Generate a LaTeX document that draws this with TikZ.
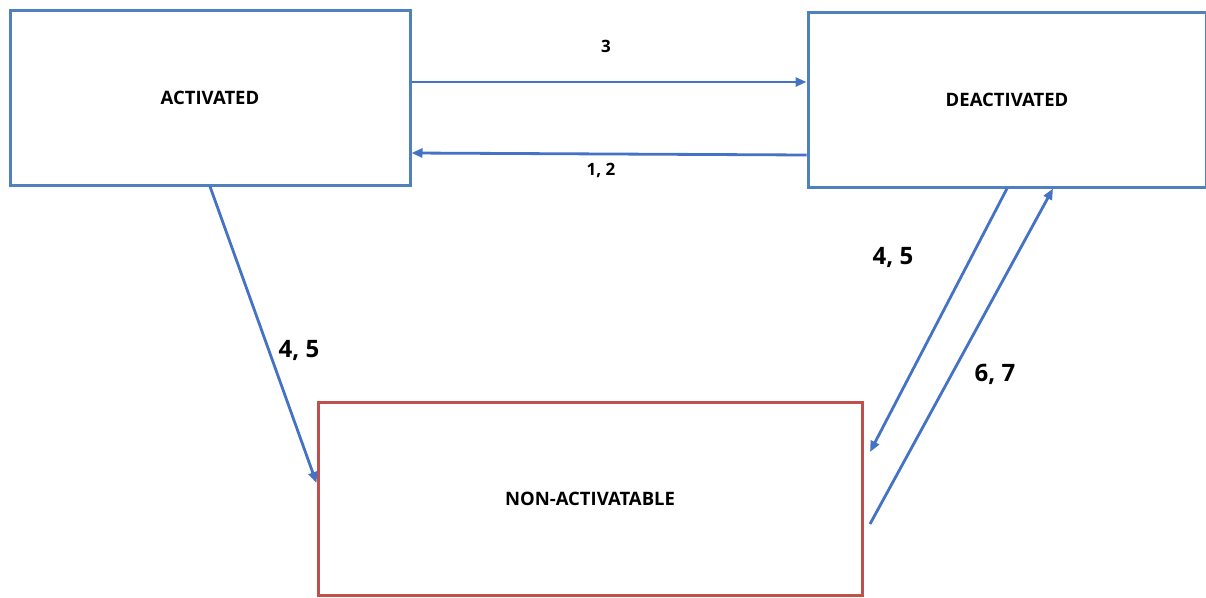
\documentclass[tikz,border=0pt]{standalone}
\usepackage{fontspec}
\setmainfont{Open Sans}
\usetikzlibrary{arrows.meta,calc}
\definecolor{boxblue}{RGB}{79,129,189}
\definecolor{arrblue}{RGB}{68,114,196}
\definecolor{boxred}{RGB}{192,80,77}
\begin{document}
\begin{tikzpicture}[x=1pt,y=-1pt,
  statebox/.style={draw=boxblue,line width=3pt,fill=white,inner sep=0pt,
    font=\bfseries\fontsize{18.5}{20}\selectfont},
  conn/.style={draw=arrblue,line width=2.8pt,-{Triangle[length=11pt,width=9pt]}},
  smalllbl/.style={font=\bfseries\fontsize{17}{19}\selectfont,inner sep=0pt},
  biglbl/.style={font=\bfseries\fontsize{24}{26}\selectfont,inner sep=0pt}]
\useasboundingbox (0,0) rectangle (1206,597);
\node[statebox,minimum width=400pt,minimum height=175pt] (act) at (210,97.5) {ACTIVATED};
\node[statebox,minimum width=398pt,minimum height=175pt] (deact) at (1007,99.5) {DEACTIVATED};
\node[statebox,draw=boxred,minimum width=544pt,minimum height=193pt] (non) at (590,498.5) {NON-ACTIVATABLE};
% horizontal arrows
\coordinate (a3s) at (act.east |- 0,82);
\coordinate (a3e) at (deact.west |- 0,82);
\draw[conn] (a3s) -- (a3e);
\coordinate (a12s) at (deact.west |- 0,155);
\coordinate (a12e) at (act.east |- 0,153);
\draw[conn] (a12s) -- (a12e);
\node[smalllbl] (l3) at (606,46) {3};
\node[smalllbl] (l12) at (601,170) {1, 2};
% activated -> non
\coordinate (a45e) at (non.west |- 0,483);
\draw[conn] (act.south) -- (a45e);
\node[biglbl] (l45a) at (299,350) {4, 5};
% deactivated -> non
\coordinate (d45e) at (870,452);
\draw[conn] (deact.south) -- (d45e);
\node[biglbl] (l45b) at (893,257) {4, 5};
% non -> deactivated
\coordinate (n67s) at (870,524);
\coordinate (n67e) at ($(deact.south)+(46,0)$);
\draw[conn] (n67s) -- (n67e);
\node[biglbl] (l67) at (995,374) {6, 7};
\end{tikzpicture}
\end{document}
